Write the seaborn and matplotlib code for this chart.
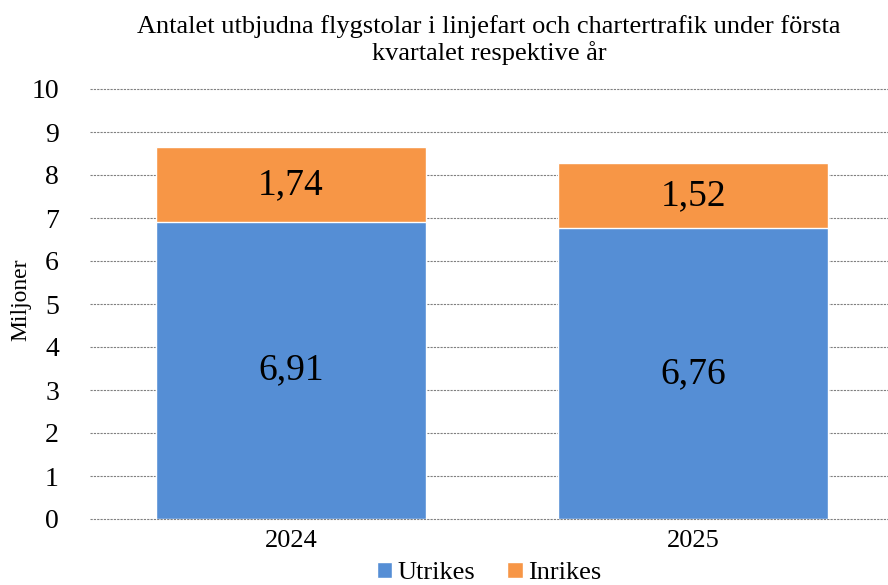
import matplotlib
matplotlib.use("Agg")
import matplotlib.pyplot as plt
import seaborn as sns
import pandas as pd

years = ["2024", "2025"]
utrikes = [6.91, 6.76]
inrikes = [1.74, 1.52]
yticks = list(range(0, 11))

blue = "#558ED5"
orange = "#F79646"

sns.set_style("white")
plt.rcParams["font.family"] = ["Liberation Serif", "DejaVu Serif"]
plt.rcParams["text.color"] = "black"
plt.rcParams["xtick.color"] = "black"
plt.rcParams["ytick.color"] = "black"

df = pd.DataFrame({"year": years, "Utrikes": utrikes, "Inrikes": inrikes})
df["total"] = df["Utrikes"] + df["Inrikes"]

fig = plt.figure(figsize=(8.88, 5.85), dpi=100)
ax = fig.add_axes([89.5 / 888, 1 - 519 / 585, 805 / 888, 430 / 585])

sns.barplot(data=df, x="year", y="total", color=orange, width=0.67,
            saturation=1, ax=ax, label="Inrikes", zorder=3)
sns.barplot(data=df, x="year", y="Utrikes", color=blue, width=0.67,
            saturation=1, ax=ax, label="Utrikes", zorder=3)
handles, labels = ax.get_legend_handles_labels()
if ax.get_legend() is not None:
    ax.get_legend().remove()

for i, row in df.iterrows():
    ax.text(i, row["Utrikes"] / 2, f"{row['Utrikes']:.2f}".replace(".", ","),
            ha="center", va="center", fontsize=27, zorder=4)
    ax.text(i, row["Utrikes"] + row["Inrikes"] / 2,
            f"{row['Inrikes']:.2f}".replace(".", ","),
            ha="center", va="center", fontsize=27, zorder=4)

ax.set_ylim(0, 10)
ax.set_xlim(-0.5, 1.5)
ax.set_yticks(yticks)
ax.yaxis.grid(True, color="#808080", linestyle=(0, (2, 1)), linewidth=0.8)
for gl in ax.get_ygridlines():
    gl.set_clip_on(False)
ax.set_axisbelow(True)
for s in ax.spines.values():
    s.set_visible(False)
ax.tick_params(axis="y", labelsize=20, length=0, pad=22)
ax.tick_params(axis="x", labelsize=19, length=0, pad=8)
ax.set_xlabel("")
ax.set_ylabel("")
fig.text(21 / 888, 1 - 300 / 585, "Miljoner", rotation=90, fontsize=17,
         ha="center", va="center")

fig.text(489 / 888, 1 - 15 / 585,
         "Antalet utbjudna flygstolar i linjefart och chartertrafik under första\nkvartalet respektive år",
         fontsize=19, ha="center", va="top", linespacing=1.15)

order = [labels.index("Utrikes"), labels.index("Inrikes")]
fig.legend([handles[k] for k in order], ["Utrikes", "Inrikes"],
           loc="center", bbox_to_anchor=(489 / 888, 1 - 573 / 585), ncol=2,
           frameon=False, fontsize=19, handlelength=0.6, handleheight=0.6,
           handletextpad=0.2, columnspacing=1.2, borderpad=0)

fig.savefig("out.png", dpi=100)
